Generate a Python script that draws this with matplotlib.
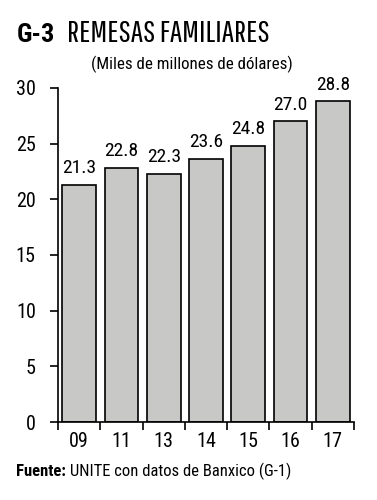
import matplotlib
matplotlib.use("Agg")
import matplotlib.pyplot as plt
from matplotlib import font_manager as fm
import numpy as np

years = ["09", "11", "13", "14", "15", "16", "17"]
remesas = [21.3, 22.8, 22.3, 23.6, 24.8, 27.0, 28.8]
yticks = [0, 5, 10, 15, 20, 25, 30]

# condensed faces like the newspaper graphic; take the first one installed
installed = {f.name for f in fm.fontManager.ttflist}
def pick(*prefs):
    return next((p for p in prefs if p in installed), "DejaVu Sans")
body = pick("Roboto Condensed", "PT Sans Narrow", "Archivo Narrow")
headf = pick("Pathway Gothic One", "Roboto Condensed")
plt.rcParams["font.family"] = [body, "DejaVu Sans"]

fig = plt.figure(figsize=(3.77, 5.0), dpi=100)
ax = fig.add_axes([0.154, 0.156, 0.785, 0.668])

x = np.arange(len(years))
ax.bar(x, remesas, width=0.8, color="#c8c8c6", edgecolor="black", linewidth=1.2)
for xi, v in zip(x, remesas):
    ax.text(xi, v + 0.7, f"{v:.1f}", ha="center", va="bottom", fontsize=14)

ax.set_xlim(-0.5, len(years) - 0.5)
ax.set_ylim(0, 30)
ax.set_yticks(yticks)
ax.set_yticklabels([str(t) for t in yticks], fontsize=14.5)
ax.set_xticks(list(x - 0.5) + [len(years) - 0.5])
ax.set_xticklabels([])
ax.set_xticks(x, minor=True)
ax.set_xticklabels(years, minor=True, fontsize=14.5)
ax.tick_params(axis="x", which="minor", length=0, pad=7)
ax.tick_params(axis="x", which="major", length=6, width=1.2, direction="out")
ax.tick_params(axis="y", length=6, width=1.2, direction="out", pad=10)
for s in ("top", "right"):
    ax.spines[s].set_visible(False)
ax.spines["left"].set_linewidth(1.2)
ax.spines["bottom"].set_linewidth(1.2)

fig.text(0.045, 0.915, "G-3", fontsize=19, fontweight="bold", va="baseline")
title = fig.text(0.178, 0.915, "REMESAS FAMILIARES", fontsize=24, va="baseline",
                 family=[headf, "DejaVu Sans"])
fig.text(0.51, 0.862, "(Miles de millones de dólares)", fontsize=12.2, ha="center", va="baseline")
src = fig.text(0.042, 0.048, "Fuente:", fontsize=12, fontweight="bold", va="baseline")

# title runs to about x=269 px in the reference; fit the narrow face to that
fig.canvas.draw()
w = title.get_window_extent().width
title.set_fontsize(24 * 202 / w)
bb = src.get_window_extent().transformed(fig.transFigure.inverted())
fig.text(bb.x1 + 0.012, 0.048, "UNITE con datos de Banxico (G-1)", fontsize=12, va="baseline")

fig.savefig("out.png", dpi=100)
